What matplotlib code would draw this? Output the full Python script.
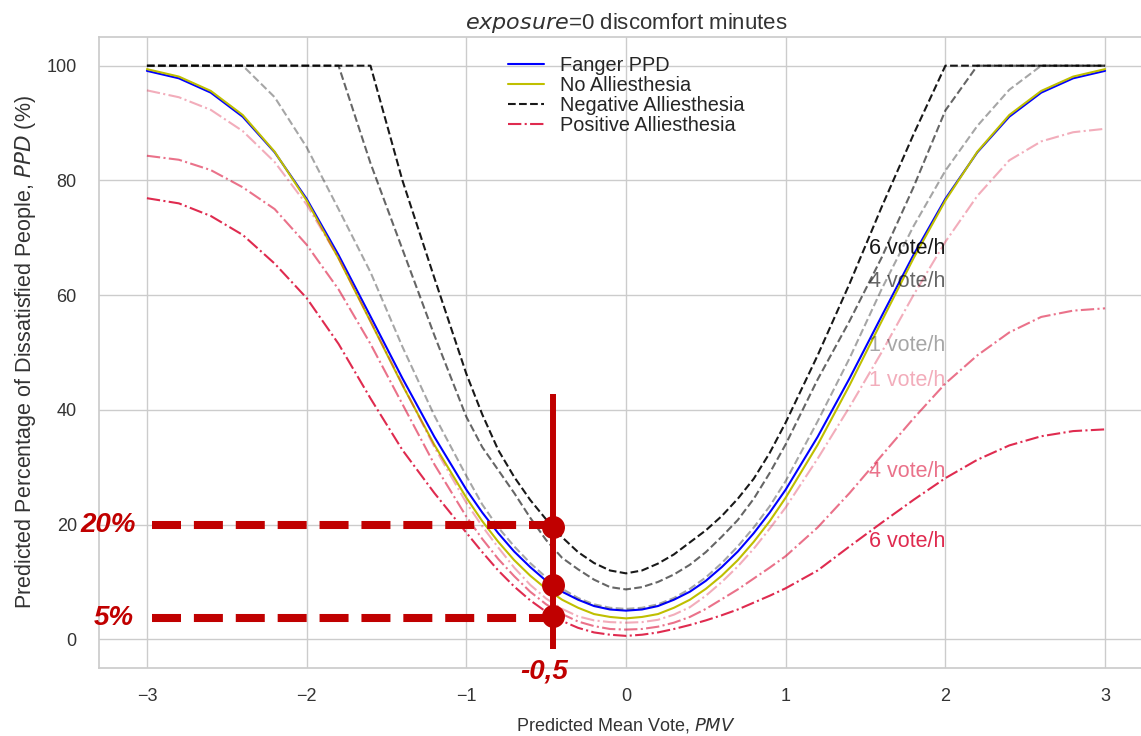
import numpy as np
import matplotlib
matplotlib.use('Agg')
import matplotlib.pyplot as plt
import seaborn as sns

# PMV grid (finer around neutral) and PPD curves
pmv = np.concatenate([np.linspace(-3, -1, 11), np.linspace(-0.9, 0.9, 19), np.linspace(1, 3, 11)])

fanger = [99.1, 97.8, 95.3, 91.1, 84.9, 76.8, 67.0, 56.3, 45.5, 35.3, 26.1,
          22.1, 18.5, 15.3, 12.6, 10.2, 8.3, 6.9, 5.8, 5.2, 5.0, 5.2, 5.8, 6.9, 8.3, 10.2, 12.6, 15.3, 18.5, 22.1,
          26.1, 35.3, 45.5, 56.3, 67.0, 76.8, 84.9, 91.1, 95.3, 97.8, 99.1]
no_alli = [99.4, 98.1, 95.6, 91.4, 85.0, 76.5, 66.4, 55.4, 44.3, 33.9, 24.7,
           20.6, 17.0, 13.8, 11.1, 8.8, 6.9, 5.5, 4.4, 3.9, 3.65, 3.9, 4.4, 5.5, 6.9, 8.8, 11.1, 13.8, 17.0, 20.6,
           24.7, 33.9, 44.3, 55.4, 66.4, 76.5, 85.0, 91.4, 95.6, 98.1, 99.4]

neg_1 = [100, 100, 100, 100, 94.5, 85.8, 75.0, 64.0, 51.0, 39.0, 28.5,
         23.5, 19.5, 16.2, 13.3, 10.8, 8.8, 7.2, 6.1, 5.5, 5.3, 5.5, 6.1, 7.2, 8.8, 10.8, 13.3, 16.2, 19.5, 23.2,
         27.6, 38.0, 49.0, 61.0, 72.0, 81.7, 89.5, 95.8, 100, 100, 100]
neg_4 = [100, 100, 100, 100, 100, 100, 100, 83.0, 68.0, 53.0, 38.8,
         33.5, 29.5, 25.5, 21.2, 17.3, 14.2, 12.2, 10.4, 9.1, 8.7, 9.1, 10.0, 11.3, 13.0, 15.2, 17.9, 20.8, 24.5, 29.0,
         34.0, 45.3, 55.5, 66.5, 78.8, 92.2, 100, 100, 100, 100, 100]
neg_6 = [100, 100, 100, 100, 100, 100, 100, 100, 80.0, 63.0, 46.3,
         39.2, 33.0, 28.3, 24.3, 20.9, 17.8, 15.2, 13.3, 12.0, 11.5, 12.0, 13.2, 14.8, 16.9, 19.0, 21.5, 24.5, 28.0, 32.5,
         37.8, 49.5, 62.0, 75.3, 88.0, 100, 100, 100, 100, 100, 100]

pos_1 = [95.7, 94.5, 92.3, 88.6, 83.2, 75.8, 66.5, 55.5, 44.5, 33.5, 23.8,
         19.7, 16.0, 12.5, 9.5, 7.1, 5.3, 4.0, 3.3, 3.0, 2.9, 3.0, 3.4, 4.3, 5.6, 7.6, 10.0, 12.7, 15.8, 19.3,
         23.0, 31.5, 40.5, 50.0, 60.0, 69.3, 77.3, 83.5, 86.8, 88.4, 89.0]
pos_4 = [84.3, 83.6, 81.8, 78.8, 75.0, 68.8, 61.0, 51.5, 41.0, 30.5, 21.4,
         17.5, 14.0, 11.0, 8.3, 6.1, 4.4, 3.1, 2.3, 1.8, 1.7, 1.8, 2.2, 2.9, 3.9, 5.3, 7.0, 8.7, 10.6, 12.5,
         14.5, 19.5, 25.5, 32.0, 38.5, 44.6, 49.5, 53.5, 56.2, 57.3, 57.7]
pos_6 = [76.9, 76.0, 73.8, 70.5, 65.5, 59.5, 51.5, 42.0, 33.0, 25.5, 18.6,
         15.2, 12.0, 9.2, 6.8, 4.8, 3.2, 2.0, 1.2, 0.8, 0.6, 0.8, 1.2, 1.8, 2.5, 3.3, 4.2, 5.2, 6.4, 7.6,
         8.9, 12.0, 16.2, 20.3, 24.3, 28.1, 31.3, 33.8, 35.4, 36.3, 36.6]

rate_labels = ['1 vote/h', '4 vote/h', '6 vote/h']
alphas = [0.35, 0.6, 0.9]

# highlighted reading at PMV -0.5
mark_pmv = -0.46
mark_ppd = [19.5, 9.4, 4.1]
mark_levels = [20, 3.8]
mark_texts = ['20%', '5%']

sns.set_theme(style='whitegrid')
plt.rcParams['font.family'] = ['Liberation Sans', 'DejaVu Sans']
plt.rcParams['axes.edgecolor'] = '#cccccc'
plt.rcParams['grid.color'] = '#cccccc'

fig = plt.figure(figsize=(11.41, 7.36), dpi=100)
ax = fig.add_axes([99 / 1141, 1 - 668 / 736, (1153 - 99) / 1141, (668 - 37) / 736])

ax.plot(pmv, fanger, color='blue', lw=1.5, label='Fanger PPD')
ax.plot(pmv, no_alli, color='#bfbf00', lw=1.5, label='No Alliesthesia')

for vals, lab, a in zip([neg_1, neg_4, neg_6], rate_labels, alphas):
    ax.plot(pmv, vals, color='black', ls='--', lw=1.5, alpha=a,
            label='Negative Alliesthesia' if lab == '6 vote/h' else None)
for vals, lab, a in zip([pos_1, pos_4, pos_6], rate_labels, alphas):
    ax.plot(pmv, vals, color='crimson', ls='-.', lw=1.5, alpha=a,
            label='Positive Alliesthesia' if lab == '6 vote/h' else None)

# curve labels
neg_text_y = [51.3, 62.3, 68.2]
pos_text_y = [45.2, 29.2, 17.0]
for lab, a, y in zip(rate_labels, alphas, neg_text_y):
    ax.text(1.52, y, lab, color='black', alpha=a, fontsize=15.5, va='center', ha='left')
for lab, a, y in zip(rate_labels, alphas, pos_text_y):
    ax.text(1.52, y, lab, color='crimson', alpha=a, fontsize=15.5, va='center', ha='left')

ax.set_xlim(-3.3, 3.3)
ax.set_ylim(-5, 105)
ax.set_xticks([-3, -2, -1, 0, 1, 2, 3])
ax.set_yticks([0, 20, 40, 60, 80, 100])
ax.tick_params(labelsize=13, colors='#333333')
ax.tick_params(axis='x', pad=8.5)
ax.tick_params(axis='y', pad=10)
ax.set_xlabel('Predicted Mean Vote, $PMV$', fontsize=13, color='#333333', labelpad=7.5)
ax.set_ylabel('Predicted Percentage of Dissatisfied People, $PPD$ (%)', fontsize=15.5,
              color='#333333', labelpad=6)
ax.set_title('$exposure$=0 discomfort minutes', fontsize=16, color='#333333')

ax.legend(loc='upper center', frameon=False, fontsize=14.3, labelspacing=0.05,
          borderaxespad=0.55, handlelength=1.8, handletextpad=0.8)

# red overlay
red = '#C00000'
for lvl in mark_levels:
    ax.plot([-2.97, mark_pmv], [lvl, lvl], color=red, lw=5.8, dashes=(3.6, 1.6),
            dash_capstyle='butt', clip_on=False, zorder=5)
ax.plot([mark_pmv, mark_pmv], [42.8, -1.7], color=red, lw=4.3, solid_capstyle='butt',
        clip_on=False, zorder=6)
ax.plot([mark_pmv] * len(mark_ppd), mark_ppd, 'o', color=red, ms=15.5, clip_on=False, zorder=7)
for lvl, txt, x in zip(mark_levels, mark_texts, [-3.24, -3.21]):
    ax.text(x, lvl, txt, color=red, fontsize=20, fontweight='bold', fontstyle='italic',
            ha='center', va='center', zorder=8)
ax.text(-0.51, -5.6, '-0,5', color=red, fontsize=20, fontweight='bold', fontstyle='italic',
        ha='center', va='center', clip_on=False, zorder=8)

fig.savefig('out.png', dpi=100)
